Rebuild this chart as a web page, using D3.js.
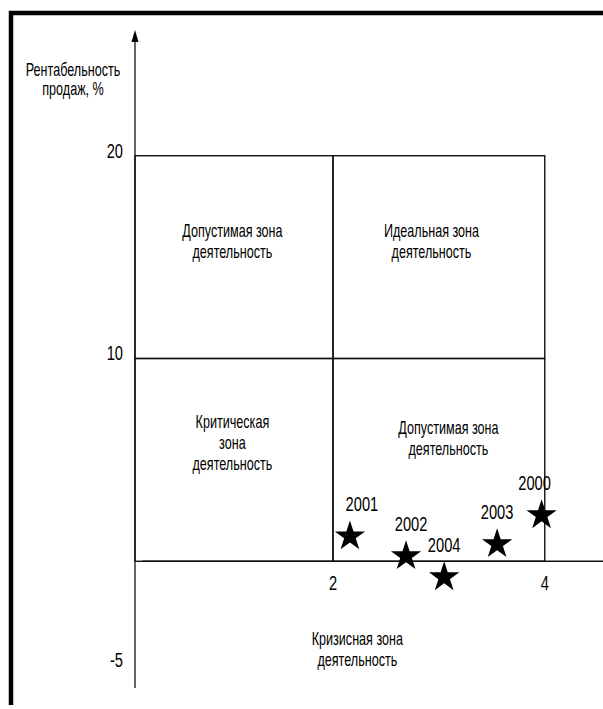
<!DOCTYPE html>
<html lang="ru">
<head>
<meta charset="UTF-8" />
<title>Матрица рентабельности</title>
<script src="https://d3js.org/d3.v7.min.js"></script>
<style>
  body { margin: 0; background: #fff; }
  svg text { font-family: "Liberation Sans", Arial, sans-serif; fill: #000; }
  .zone { fill: none; stroke: #111; stroke-width: 1.4; }
  .axisline { stroke: #111; stroke-width: 1.3; }
</style>
</head>
<body>
<div id="chart"></div>
<script>
// data
const years = ["2000", "2001", "2002", "2003", "2004"];
const crisisIndex = [3.97, 2.16, 2.69, 3.55, 3.05];   // x
const profitability = [2.27, 1.23, 0.25, 0.84, -0.79]; // y, %

const yTicks = [20, 10, -5];
const xTicks = [2, 4];

// zones: [x0, x1, y0, y1]
const zoneX0 = [0.13, 2, 0.13, 2];
const zoneX1 = [2, 4, 2, 4];
const zoneY0 = [10, 10, 0, 0];
const zoneY1 = [20, 20, 10, 10];

const zoneText = [
  ["Допустимая зона", "деятельность"],
  ["Идеальная зона", "деятельность"],
  ["Критическая", "зона", "деятельность"],
  ["Допустимая зона", "деятельность"],
  ["Кризисная зона", "деятельность"]
];
const zoneTextX = [1.05, 2.93, 1.05, 3.09, 2.23];
const zoneTextY = [16, 16, 6.55, 6.3, -4.14];

const W = 603, H = 709;
const SX = 0.7; // the original lettering is squeezed horizontally

const x = d3.scaleLinear().domain([0.13, 4.55]).range([135, 603]);
const y = d3.scaleLinear().domain([-6.25, 26.2]).range([688, 30]);

const svg = d3.select("#chart").append("svg")
  .attr("width", W).attr("height", H);

// squeezed multi-line text, first baseline at (cx, cy)
function label(cx, cy, lines, size, lh, anchor) {
  const g = svg.append("g")
    .attr("transform", `translate(${cx},${cy}) scale(${SX},1)`);
  g.append("text")
    .attr("text-anchor", anchor || "middle")
    .style("font-size", size + "px")
    .selectAll("tspan")
    .data(lines)
    .join("tspan")
    .attr("x", 0)
    .attr("dy", (d, i) => i ? lh : 0)
    .text(d => d);
}

// frame (top and left thick edges)
svg.append("path")
  .attr("d", "M11,705 V13 H603")
  .attr("fill", "none")
  .attr("stroke", "#000")
  .attr("stroke-width", 4.5);

// zones
svg.selectAll("rect.zone")
  .data(zoneX0)
  .join("rect")
  .attr("class", "zone")
  .attr("x", (d, i) => x(d))
  .attr("y", (d, i) => y(zoneY1[i]))
  .attr("width", (d, i) => x(zoneX1[i]) - x(d))
  .attr("height", (d, i) => y(zoneY0[i]) - y(zoneY1[i]));

// y axis with arrow
const yAxisX = x.domain()[0];
svg.append("line").attr("class", "axisline")
  .attr("x1", x(yAxisX)).attr("x2", x(yAxisX))
  .attr("y1", y(y.domain()[1]) + 6).attr("y2", y(y.domain()[0]));
svg.append("path")
  .attr("transform", `translate(${x(yAxisX)},${y(y.domain()[1])})`)
  .attr("d", "M0,0 L3.5,12 L-3.5,12 Z")
  .attr("fill", "#000");

// x axis line
svg.append("line").attr("class", "axisline")
  .attr("x1", x(0.2)).attr("x2", x(x.domain()[1]))
  .attr("y1", y(0)).attr("y2", y(0));

// tick labels
yTicks.forEach(v => label(x(yAxisX) - 12, y(v) + (v < 0 ? 4 : 2), [String(v)], 21, 0, "end"));
xTicks.forEach(v => label(x(v), y(0) + 29, [String(v)], 21, 0));

// axis title
label(73, 76, ["Рентабельность", "продаж, %"], 18, 19);

// zone captions
zoneText.forEach((lines, i) => label(x(zoneTextX[i]), y(zoneTextY[i]), lines, 18, 21));

// stars
const star = d3.symbol().type(d3.symbolStar).size(285);
const pts = years.map((yr, i) => ({ yr, cx: crisisIndex[i], cy: profitability[i] }));

svg.selectAll("path.star")
  .data(pts)
  .join("path")
  .attr("class", "star")
  .attr("d", star)
  .attr("transform", d => `translate(${x(d.cx)},${y(d.cy)})`)
  .attr("fill", "#000");

const shift = { "2000": -7, "2001": 12, "2002": 5, "2003": 0, "2004": 0 };
pts.forEach(d => label(x(d.cx) + shift[d.yr], y(d.cy) - 25, [d.yr], 21, 0));
</script>
</body>
</html>
